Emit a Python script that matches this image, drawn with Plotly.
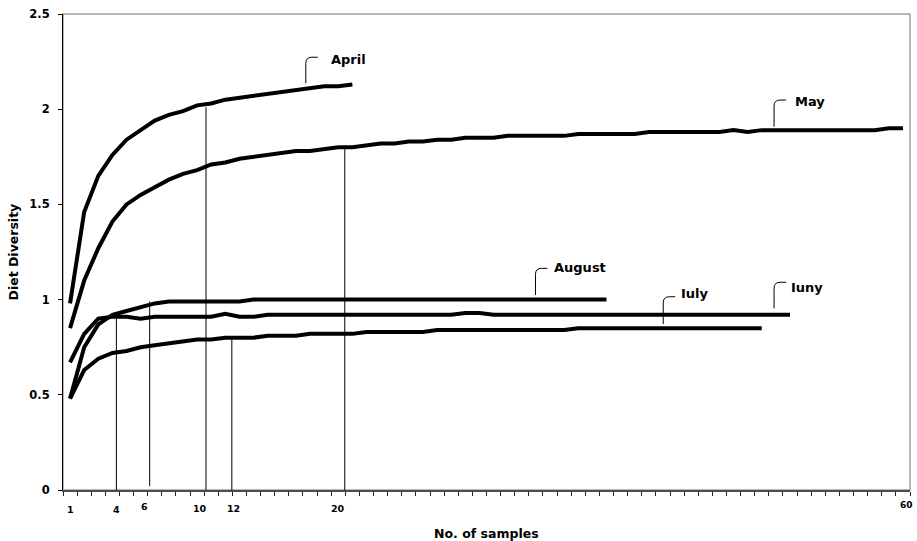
import plotly.graph_objects as go

# ---------------- data ----------------
series_names = ["April", "May", "August", "Iuly", "Iuny"]

april = [0.98, 1.46, 1.65, 1.76, 1.84, 1.89, 1.94, 1.97, 1.99, 2.02,
         2.03, 2.05, 2.06, 2.07, 2.08, 2.09, 2.10, 2.11, 2.12, 2.12,
         2.13]

may = [0.85, 1.10, 1.27, 1.41, 1.50, 1.55, 1.59, 1.63, 1.66, 1.68,
       1.71, 1.72, 1.74, 1.75, 1.76, 1.77, 1.78, 1.78, 1.79, 1.80,
       1.80, 1.81, 1.82, 1.82, 1.83, 1.83, 1.84, 1.84, 1.85, 1.85,
       1.85, 1.86, 1.86, 1.86, 1.86, 1.86, 1.87, 1.87, 1.87, 1.87,
       1.87, 1.88, 1.88, 1.88, 1.88, 1.88, 1.88, 1.89, 1.88, 1.89,
       1.89, 1.89, 1.89, 1.89, 1.89, 1.89, 1.89, 1.89, 1.90, 1.90]

august = [0.48, 0.75, 0.87, 0.92, 0.94, 0.96, 0.98, 0.99, 0.99, 0.99,
          0.99, 0.99, 0.99, 1.00, 1.00, 1.00, 1.00, 1.00, 1.00, 1.00,
          1.00, 1.00, 1.00, 1.00, 1.00, 1.00, 1.00, 1.00, 1.00, 1.00,
          1.00, 1.00, 1.00, 1.00, 1.00, 1.00, 1.00, 1.00, 1.00]

iuly = [0.48, 0.63, 0.69, 0.72, 0.73, 0.75, 0.76, 0.77, 0.78, 0.79,
        0.79, 0.80, 0.80, 0.80, 0.81, 0.81, 0.81, 0.82, 0.82, 0.82,
        0.82, 0.83, 0.83, 0.83, 0.83, 0.83, 0.84, 0.84, 0.84, 0.84,
        0.84, 0.84, 0.84, 0.84, 0.84, 0.84, 0.85, 0.85, 0.85, 0.85,
        0.85, 0.85, 0.85, 0.85, 0.85, 0.85, 0.85, 0.85, 0.85, 0.85]

iuny = [0.67, 0.82, 0.90, 0.91, 0.91, 0.90, 0.91, 0.91, 0.91, 0.91,
        0.91, 0.925, 0.91, 0.91, 0.92, 0.92, 0.92, 0.92, 0.92, 0.92,
        0.92, 0.92, 0.92, 0.92, 0.92, 0.92, 0.92, 0.92, 0.93, 0.93,
        0.92, 0.92, 0.92, 0.92, 0.92, 0.92, 0.92, 0.92, 0.92, 0.92,
        0.92, 0.92, 0.92, 0.92, 0.92, 0.92, 0.92, 0.92, 0.92, 0.92,
        0.92, 0.92]

n_categories = 60
y_tick_vals = [0, 0.5, 1, 1.5, 2, 2.5]
y_tick_text = ["0", "0.5", "1", "1.5", "2", "2.5"]
x_label_text = ["1", "4", "6", "10", "12", "20", "60"]

# marked sample numbers (drop lines) and the diversity level they reach
marker_samples = [4, 6, 10, 12, 20]
marker_levels = [0.91, 0.99, 2.01, 0.80, 1.79]

# ---------------- layout / style (not data) ----------------
W, H = 917, 541
ML, MR, MT, MB = 63, 7, 14, 51
PW, PH = W - ML - MR, H - MT - MB
XR = [0.5, n_categories + 0.5]
YR = [0, 2.5]
px_per_x = PW / (XR[1] - XR[0])
px_per_y = PH / (YR[1] - YR[0])

FONT = "DejaVu Sans, Liberation Sans, Arial"

# drop-line x positions (category units) as drawn in the reference
marker_xpos = [4.28, 6.64, 10.63, 12.46, 20.46]
marker_bottom = [0.0, 0.02, 0.0, 0.0, 0.0]
# x label positions / vertical pixel offsets / sizes
x_label_xpos = [1.0, 4.28, 6.29, 10.19, 12.55, 20.0, 60.26]
x_label_dy = [19, 19, 16, 18, 18, 18, 15]
x_label_size = [9.5, 9.5, 9.5, 9.5, 9.5, 9.5, 9]

series_data = [april, may, august, iuly, iuny]

fig = go.Figure()
for name, vals in zip(series_names, series_data):
    fig.add_trace(go.Scatter(
        x=list(range(1, len(vals) + 1)), y=vals, mode="lines", name=name,
        line=dict(color="black", width=4), showlegend=False,
        hoverinfo="x+y+name"))

shapes = []
# plot-area frame (gray top/right)
shapes.append(dict(type="rect", xref="paper", yref="paper", x0=0, x1=1, y0=0, y1=1,
                   line=dict(color="#a0a0a0", width=1.5), layer="below"))
# drop lines
for xv, top, bot in zip(marker_xpos, marker_levels, marker_bottom):
    shapes.append(dict(type="line", xref="x", yref="y", x0=xv, x1=xv, y0=bot, y1=top,
                       line=dict(color="black", width=1)))

# callouts: (label, stroke x, stroke bottom y, stroke top y, text x, text y)
callouts = [
    ("April", 17.70, 2.136, 2.273, 19.33, 2.262),
    ("May", 50.87, 1.908, 2.048, 52.22, 2.039),
    ("August", 33.97, 1.024, 1.164, 35.11, 1.170),
    ("Iuly", 43.02, 0.872, 1.015, 44.17, 1.033),
    ("Iuny", 50.87, 0.954, 1.091, 51.93, 1.065),
]
R_PX, HOR_PX = 6, 12
annotations = []
for label, sx, sb, st, tx, ty in callouts:
    rx = R_PX / px_per_x
    ry = R_PX / px_per_y
    hx = HOR_PX / px_per_x
    path = (f"M {sx},{sb} L {sx},{st - ry} Q {sx},{st} {sx + rx},{st} "
            f"L {sx + hx},{st}")
    shapes.append(dict(type="path", xref="x", yref="y", path=path,
                       line=dict(color="black", width=1)))
    annotations.append(dict(x=tx, y=ty, xref="x", yref="y", text=label,
                            showarrow=False, xanchor="left", yanchor="middle",
                            font=dict(family=FONT, size=13, color="black", weight="bold")))

for txt, xp, dy, fs in zip(x_label_text, x_label_xpos, x_label_dy, x_label_size):
    annotations.append(dict(x=xp, y=-dy / PH, xref="x", yref="paper", text=txt,
                            showarrow=False, xanchor="center", yanchor="middle",
                            font=dict(family=FONT, size=fs, color="black", weight="bold")))

annotations.append(dict(x=0.5, y=-(533 - (MT + PH)) / PH, xref="paper", yref="paper",
                        text="No. of samples", showarrow=False, xanchor="center",
                        yanchor="middle",
                        font=dict(family=FONT, size=12.5, color="black", weight="bold")))
annotations.append(dict(x=(12.5 - ML) / PW, y=0.5, xref="paper", yref="paper",
                        text="Diet Diversity", showarrow=False, textangle=-90,
                        xanchor="center", yanchor="middle",
                        font=dict(family=FONT, size=12.5, color="black", weight="bold")))

fig.update_layout(
    width=W, height=H,
    margin=dict(l=ML, r=MR, t=MT, b=MB, pad=0),
    paper_bgcolor="white", plot_bgcolor="white",
    shapes=shapes, annotations=annotations,
    xaxis=dict(range=XR, showgrid=False, zeroline=False,
               showline=True, linecolor="#4d4d4d", linewidth=2,
               tickmode="array",
               tickvals=[0.5 + i for i in range(n_categories + 1)],
               ticktext=["" for _ in range(n_categories + 1)],
               ticks="outside", ticklen=4, tickwidth=1, tickcolor="#222"),
    yaxis=dict(range=YR, showgrid=False, zeroline=False,
               showline=True, linecolor="black", linewidth=1,
               tickmode="array", tickvals=y_tick_vals, ticktext=y_tick_text,
               ticks="outside", ticklen=4, tickwidth=1, tickcolor="black",
               ticklabelstandoff=6,
               tickfont=dict(family=FONT, size=11.5, color="black", weight="bold")),
)

fig.write_html(
    "out.html",
    config={"displayModeBar": False},
    post_script="document.body.style.margin='0px';document.body.style.padding='0px';"
                "document.body.style.overflow='hidden';",
)
